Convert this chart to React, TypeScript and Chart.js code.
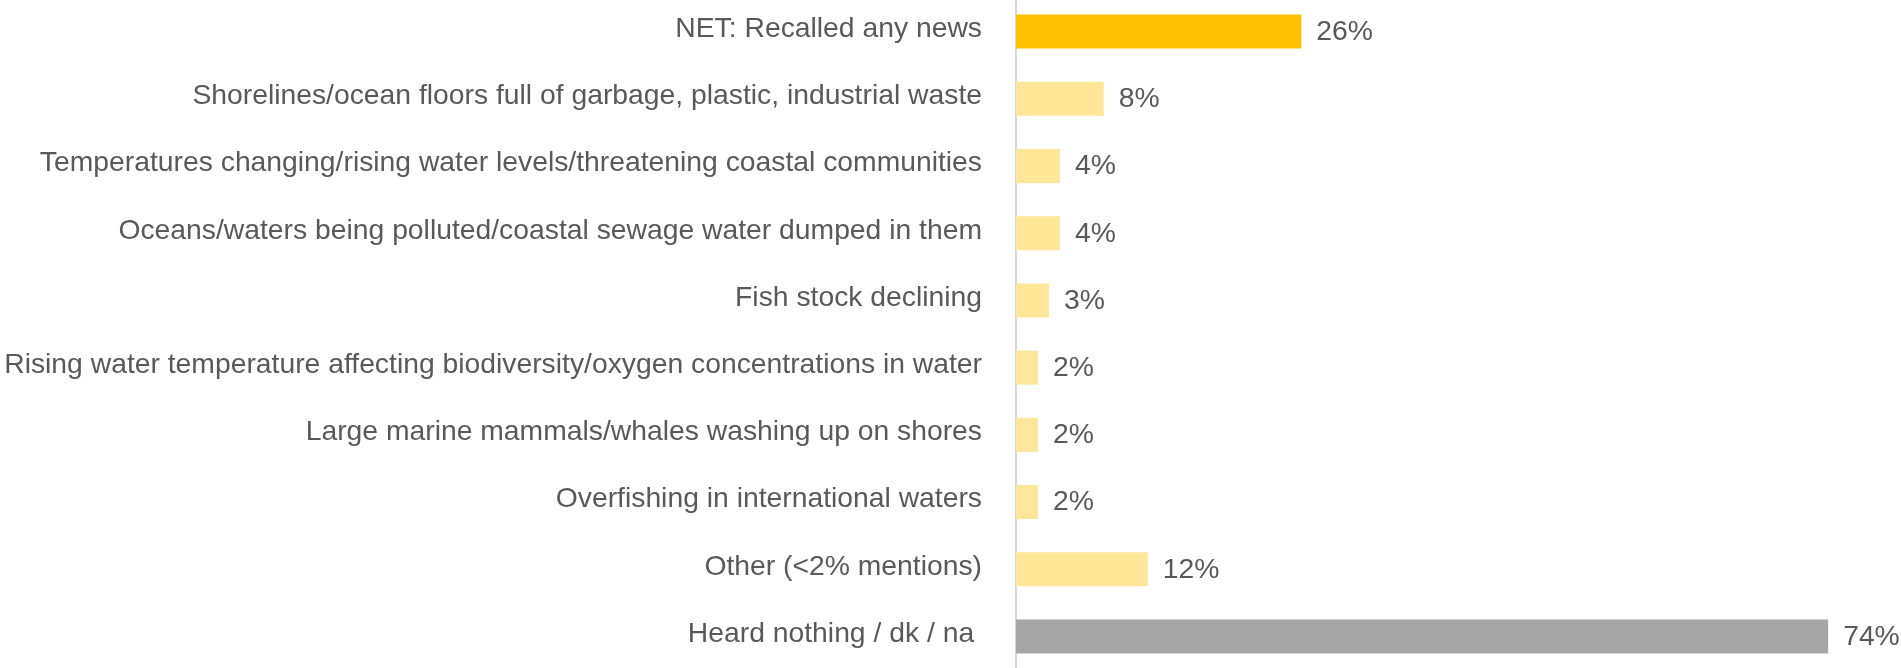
import React, { useEffect, useRef } from "react";
import { Chart, registerables } from "chart.js";

Chart.register(...registerables);

const categories: string[] = [
  "NET: Recalled any news",
  "Shorelines/ocean floors full of garbage, plastic, industrial waste",
  "Temperatures changing/rising water levels/threatening coastal communities",
  "Oceans/waters being polluted/coastal sewage water dumped in them",
  "Fish stock declining",
  "Rising water temperature affecting biodiversity/oxygen concentrations in water",
  "Large marine mammals/whales washing up on shores",
  "Overfishing in international waters",
  "Other (<2% mentions)",
  "Heard nothing / dk / na ",
];

const values: number[] = [26, 8, 4, 4, 3, 2, 2, 2, 12, 74];

const barColors: string[] = [
  "#FFC000",
  "#FFE699",
  "#FFE699",
  "#FFE699",
  "#FFE699",
  "#FFE699",
  "#FFE699",
  "#FFE699",
  "#FFE699",
  "#A6A6A6",
];

const FONT = "'Liberation Sans', Arial, Helvetica, sans-serif";
const FONT_SIZE = 28.3;
const TEXT_COLOR = "#595959";

const valueLabels = {
  id: "valueLabels",
  afterDatasetsDraw(chart: any) {
    const ctx = chart.ctx;
    const meta = chart.getDatasetMeta(0);
    ctx.save();
    ctx.font = `${FONT_SIZE}px ${FONT}`;
    ctx.fillStyle = TEXT_COLOR;
    ctx.textAlign = "left";
    ctx.textBaseline = "middle";
    meta.data.forEach((bar: any, i: number) => {
      ctx.fillText(`${values[i]}%`, bar.x + 15, bar.y + 0.5);
    });
    ctx.restore();
  },
};

export default function App() {
  const ref = useRef<HTMLCanvasElement | null>(null);

  useEffect(() => {
    document.body.style.margin = "0";
    const canvas = ref.current;
    if (!canvas) return;
    const chart = new Chart(canvas, {
      type: "bar",
      data: {
        labels: categories,
        datasets: [
          {
            data: values,
            backgroundColor: barColors,
            borderWidth: 0,
            barPercentage: 0.506,
            categoryPercentage: 1,
          },
        ],
      },
      options: {
        indexAxis: "y",
        animation: false,
        responsive: false,
        maintainAspectRatio: false,
        layout: { padding: { left: 0, right: 7, top: 0, bottom: 0 } },
        plugins: {
          legend: { display: false },
          tooltip: { enabled: false },
        },
        scales: {
          x: {
            min: 0,
            max: 80,
            display: false,
            grid: { display: false },
          },
          y: {
            afterFit(scale: any) {
              scale.width = 1016;
              scale.paddingTop = 0;
              scale.paddingBottom = 0;
            },
            grid: { display: false, drawTicks: false },
            border: { display: true, color: "#D9D9D9", width: 2 },
            ticks: {
              padding: 34,
              labelOffset: -2.5,
              autoSkip: false,
              color: TEXT_COLOR,
              font: { family: FONT, size: FONT_SIZE },
            },
          },
        },
      },
      plugins: [valueLabels],
    });
    return () => chart.destroy();
  }, []);

  return (
    <div style={{ position: "absolute", left: 0, top: -2, width: 1901, height: 672 }}>
      <canvas ref={ref} width={1901} height={672} style={{ width: 1901, height: 672 }} />
    </div>
  );
}
